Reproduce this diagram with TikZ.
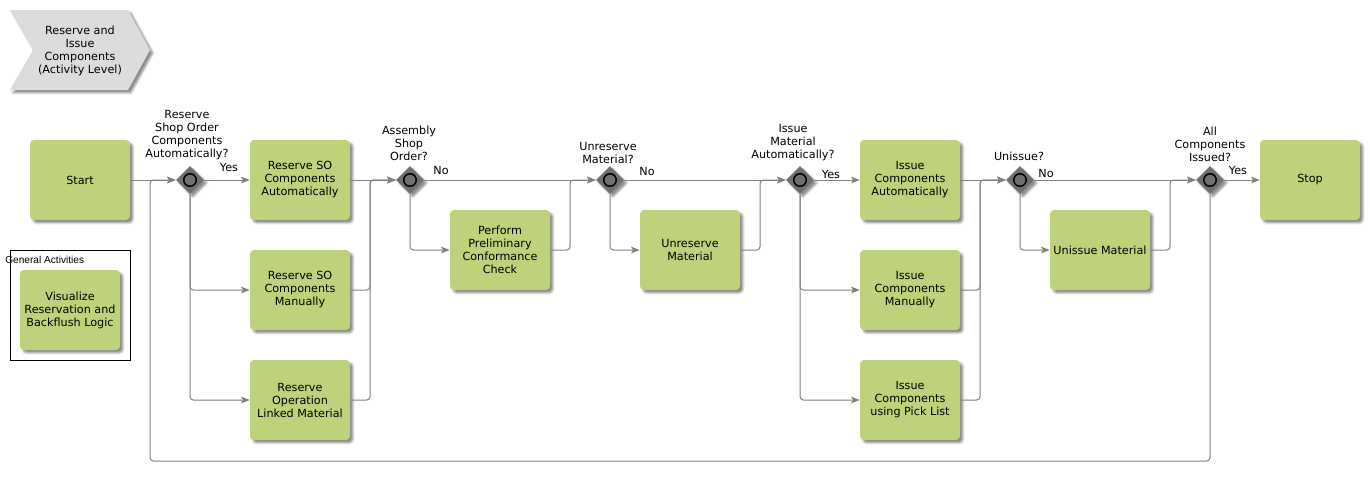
\documentclass[tikz,border=0pt]{standalone}
\usepackage{fontspec}
\usetikzlibrary{arrows.meta}
\usetikzlibrary{shapes.geometric}
\usetikzlibrary{shadows.blur}
\newfontfamily\diafont{DejaVu Sans}
\newfontfamily\genfont{Liberation Sans}
\definecolor{taskgreen}{RGB}{189,210,122}
\definecolor{chevgray}{RGB}{220,220,220}
\definecolor{gwgray}{RGB}{112,112,112}
\definecolor{flowgray}{RGB}{128,128,128}
\tikzset{
  boxshadow/.style={blur shadow={shadow xshift=2.2pt, shadow yshift=-2.2pt, shadow blur radius=1.5pt, shadow opacity=45}},
  task/.style={fill=taskgreen, rounded corners=3pt, minimum width=75pt, minimum height=60pt, align=center, inner sep=1pt, font=\diafont\fontsize{8.4}{9.75}\selectfont, boxshadow},
  gateway/.style={diamond, fill=gwgray, inner sep=0pt, minimum width=21pt, minimum height=21pt, boxshadow,
    path picture={\draw[line width=1.1pt, fill=gwgray] (path picture bounding box.center) circle (4.7pt);}},
  question/.style={align=center, inner sep=0pt, anchor=south, font=\diafont\fontsize{8.4}{9.75}\selectfont},
  answer/.style={inner sep=0pt, font=\diafont\fontsize{8.4}{9.75}\selectfont},
  link/.style={draw=flowgray, line width=0.75pt, rounded corners=2.5pt},
  flow/.style={link, -{Stealth[length=6.5pt,width=5pt,inset=1.5pt]}},
}

\begin{document}
\begin{tikzpicture}[x=0.75pt,y=0.75pt,yscale=-1,xscale=1]
\useasboundingbox (0,0) rectangle (1370,483);

%Shape: Chevron
\fill [chevgray, boxshadow] (10,10) -- (128,10) -- (150,50) -- (128,90) -- (10,90) -- (33,50) -- cycle ;
\node [align=center, inner sep=0pt, font=\diafont\fontsize{8.4}{9.75}\selectfont] (title) at (80,51) {Reserve and\\Issue\\Components\\(Activity Level)};

%Shape: General activities frame
\draw [black, line width=0.75pt] (10,250) rectangle (130,360) ;
\node [anchor=west, inner sep=0pt, font=\genfont\fontsize{7.6}{9}\selectfont] (general) at (5,260) {General Activities};
\node [task] (vis) at (70,310) {Visualize\\Reservation and\\Backflush Logic};

%Shape: Tasks
\node [task] (start) at (80,180) {Start};
\node [task] (ra) at (300,180) {Reserve SO\\Components\\Automatically};
\node [task] (rm) at (300,290) {Reserve SO\\Components\\Manually};
\node [task] (rl) at (300,400) {Reserve\\Operation\\Linked Material};
\node [task] (pc) at (500,250) {Perform\\Preliminary\\Conformance\\Check};
\node [task] (ur) at (690,250) {Unreserve\\Material};
\node [task] (ia) at (910,180) {Issue\\Components\\Automatically};
\node [task] (im) at (910,290) {Issue\\Components\\Manually};
\node [task] (ip) at (910,400) {Issue\\Components\\using Pick List};
\node [task] (um) at (1100,250) {Unissue Material};
\node [task] (stop) at (1310,180) {Stop};

%Shape: Gateways
\node [gateway] (g1) at (190,180) {};
\node [gateway] (g2) at (410,180) {};
\node [gateway] (g3) at (610,180) {};
\node [gateway] (g4) at (800,180) {};
\node [gateway] (g5) at (1020,180) {};
\node [gateway] (g6) at (1210,180) {};

%Text: Gateway questions
\node [question] (q1) at (187,160) {Reserve\\Shop Order\\Components\\Automatically?};
\node [question] (q2) at (409,161) {Assembly\\Shop\\Order?};
\node [question] (q3) at (608,164) {Unreserve\\Material?};
\node [question] (q4) at (793,161) {Issue\\Material\\Automatically?};
\node [question] (q5) at (1019,161) {Unissue?};
\node [question] (q6) at (1210,162) {All\\Components\\Issued?};

%Text: Answers
\node [answer] (a1) at (229,167) {Yes};
\node [answer] (a2) at (441,170) {No};
\node [answer] (a3) at (647,171) {No};
\node [answer] (a4) at (831,174) {Yes};
\node [answer] (a5) at (1046,173) {No};
\node [answer] (a6) at (1238,170) {Yes};

%Coordinates: merge lines and loop
\coordinate (m2) at (370,180);
\coordinate (m3) at (570,180);
\coordinate (m4) at (760,180);
\coordinate (m5) at (980,180);
\coordinate (m6) at (1170,180);
\coordinate (loop) at (150,461);

%Straight Lines: reservation
\draw [flow] (start) -- (g1) ;
\draw [flow] (g1) -- (ra) ;
\draw [flow] (g1.south) |- (rm.west) ;
\draw [flow] (g1.south) |- (rl.west) ;
\draw [flow] (ra) -- (g2) ;
\draw [flow] (rm.east) -| (m2) -- (g2.west) ;
\draw [flow] (rl.east) -| (m2) -- (g2.west) ;

%Straight Lines: conformance and unreserve
\draw [flow] (g2) -- (g3) ;
\draw [flow] (g2.south) |- (pc.west) ;
\draw [flow] (pc.east) -| (m3) -- (g3.west) ;
\draw [flow] (g3) -- (g4) ;
\draw [flow] (g3.south) |- (ur.west) ;
\draw [flow] (ur.east) -| (m4) -- (g4.west) ;

%Straight Lines: issue
\draw [flow] (g4) -- (ia) ;
\draw [flow] (g4.south) |- (im.west) ;
\draw [flow] (g4.south) |- (ip.west) ;
\draw [flow] (ia) -- (g5) ;
\draw [flow] (im.east) -| (m5) -- (g5.west) ;
\draw [flow] (ip.east) -| (m5) -- (g5.west) ;
\draw [flow] (g5) -- (g6) ;
\draw [flow] (g5.south) |- (um.west) ;
\draw [flow] (um.east) -| (m6) -- (g6.west) ;
\draw [flow] (g6) -- (stop) ;

%Straight Lines: back loop
\draw [flow] (g6.south) |- (loop) |- (g1.west) ;

\end{tikzpicture}
\end{document}
